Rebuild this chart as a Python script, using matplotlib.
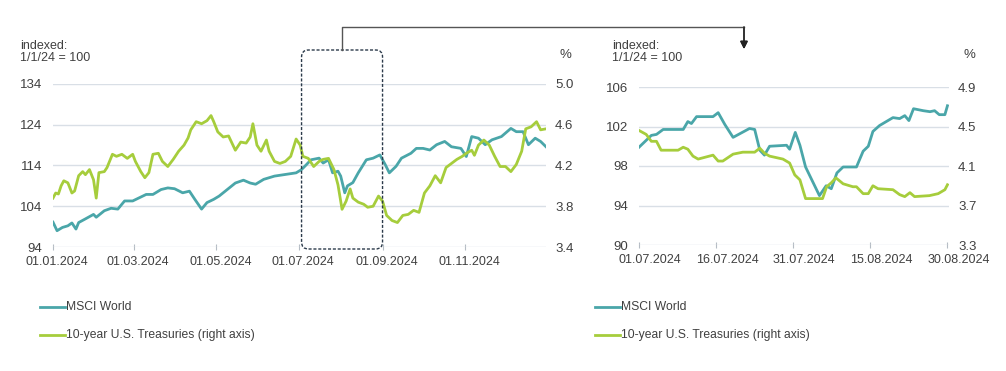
import matplotlib
matplotlib.use('Agg')
import matplotlib.pyplot as plt
from matplotlib.patches import FancyBboxPatch
from matplotlib.lines import Line2D
from matplotlib.transforms import ScaledTranslation, IdentityTransform

# full year 2024, x = days since 01.01.2024
msci_year_day = [0, 3, 7, 11, 14, 17, 19, 24, 30, 32, 38, 43, 48, 53, 59, 64, 69, 74, 80, 85,
                 90, 96, 101, 105, 110, 114, 119, 123, 129, 135, 141, 146, 150, 156, 164, 172, 180, 184, 187, 191,
                 197, 200, 204, 207, 211, 213, 216, 218, 222, 226, 232, 237, 242, 246, 249, 254, 258, 265, 269, 274,
                 279, 284, 290, 295, 302, 306, 310, 315, 320, 325, 332, 339, 343, 348, 352, 357, 361, 365]
msci_year = [100.1, 98.0, 98.8, 99.2, 99.9, 98.4, 100.0, 100.9, 102.0, 101.3, 102.9, 103.5, 103.3, 105.3, 105.3, 106.1, 106.9, 106.9, 108.1, 108.5,
             108.3, 107.3, 107.7, 105.7, 103.3, 104.9, 105.7, 106.5, 108.1, 109.7, 110.4, 109.7, 109.4, 110.6, 111.4, 111.8, 112.2, 113.0, 114.0, 115.4,
             115.8, 114.6, 115.4, 112.2, 112.6, 111.4, 107.3, 109.0, 109.8, 112.2, 115.4, 115.8, 116.6, 114.2, 112.2, 113.8, 115.8, 117.0, 118.2, 118.2,
             117.8, 119.1, 119.9, 118.6, 118.2, 116.2, 121.1, 120.7, 119.1, 120.3, 121.1, 123.1, 122.3, 122.3, 119.1, 120.7, 119.9, 118.6]

ust_year_day = [0, 2, 4, 6, 8, 11, 14, 16, 19, 22, 24, 27, 30, 32, 34, 38, 40, 44, 47, 51,
                55, 59, 61, 65, 68, 71, 74, 78, 81, 85, 89, 93, 97, 100, 102, 106, 110, 114, 117, 119,
                122, 126, 130, 135, 139, 143, 146, 148, 151, 154, 158, 160, 164, 168, 172, 176, 180, 183, 185, 189,
                193, 197, 200, 204, 208, 211, 214, 217, 220, 222, 226, 230, 233, 237, 241, 244, 247, 251, 255, 259,
                263, 267, 271, 275, 279, 283, 287, 291, 295, 299, 303, 306, 310, 312, 315, 319, 323, 327, 331, 335,
                339, 343, 347, 350, 354, 358, 361, 365]
ust_year = [3.88, 3.93, 3.92, 4.00, 4.05, 4.03, 3.93, 3.95, 4.10, 4.14, 4.11, 4.16, 4.06, 3.88, 4.13, 4.14, 4.18, 4.31, 4.29, 4.31,
            4.27, 4.31, 4.24, 4.14, 4.08, 4.13, 4.31, 4.32, 4.24, 4.19, 4.26, 4.34, 4.40, 4.47, 4.55, 4.63, 4.61, 4.64, 4.69, 4.63,
            4.53, 4.48, 4.49, 4.35, 4.43, 4.42, 4.48, 4.61, 4.40, 4.34, 4.45, 4.34, 4.24, 4.22, 4.24, 4.29, 4.46, 4.40, 4.29, 4.27,
            4.19, 4.24, 4.26, 4.27, 4.16, 4.01, 3.77, 3.85, 3.97, 3.88, 3.84, 3.82, 3.79, 3.80, 3.90, 3.85, 3.71, 3.66, 3.64, 3.71,
            3.72, 3.76, 3.74, 3.93, 4.00, 4.10, 4.03, 4.18, 4.22, 4.26, 4.29, 4.32, 4.35, 4.30, 4.40, 4.45, 4.40, 4.29, 4.19, 4.19,
            4.14, 4.21, 4.34, 4.56, 4.58, 4.63, 4.55, 4.56]

year_tick_days = [0, 60, 121, 182, 244, 305]
year_tick_labels = ['01.01.2024', '01.03.2024', '01.05.2024', '01.07.2024', '01.09.2024', '01.11.2024']

# zoom 01.07.-30.08.2024, x = days since 01.07.2024
msci_zoom_day = [0, 2.4, 3.4, 4.7, 8.6, 9.5, 10.2, 11.2, 14.4, 15.4, 16.7, 18.3, 21.5, 22.5, 23.5, 24.4, 25.4, 28.7, 29.3, 30.4,
                 31.3, 32.4, 35.1, 36.4, 37.4, 38.5, 39.7, 42.3, 43.6, 44.6, 45.5, 46.8, 49.4, 50.7, 51.7, 52.5, 53.4, 55.3, 56.6, 57.5,
                 58.4, 59.5, 60]
msci_zoom = [99.9, 101.1, 101.2, 101.7, 101.7, 102.5, 102.3, 103.0, 103.0, 103.4, 102.2, 100.9, 101.8, 101.7, 99.6, 99.1, 100.0, 100.1, 99.7, 101.4,
             100.1, 97.9, 95.0, 96.0, 95.7, 97.3, 97.9, 97.9, 99.5, 100.0, 101.5, 102.1, 102.9, 102.8, 103.1, 102.6, 103.8, 103.6, 103.5, 103.6,
             103.2, 103.2, 104.1]

ust_zoom_day = [0, 1.4, 2.4, 3.4, 4.3, 7.6, 8.6, 9.5, 10.5, 11.5, 14.4, 15.4, 16.3, 18.3, 20.2, 22.5, 23.5, 24.4, 25.4, 28.0,
                29.3, 30.3, 31.3, 32.4, 35.7, 36.5, 37.4, 38.3, 39.7, 41.6, 42.3, 43.6, 44.6, 45.5, 46.5, 49.4, 50.7, 51.7, 52.7, 53.6,
                56.5, 58.2, 59.5, 60]
ust_zoom = [4.46, 4.42, 4.35, 4.35, 4.26, 4.26, 4.29, 4.27, 4.20, 4.17, 4.21, 4.15, 4.15, 4.22, 4.24, 4.24, 4.28, 4.23, 4.20, 4.17,
            4.13, 4.01, 3.96, 3.77, 3.77, 3.89, 3.93, 3.98, 3.92, 3.89, 3.89, 3.82, 3.82, 3.90, 3.87, 3.86, 3.81, 3.79, 3.83, 3.79,
            3.80, 3.82, 3.86, 3.91]

zoom_tick_days = [0, 15, 30, 45, 60]
zoom_tick_labels = ['01.07.2024', '16.07.2024', '31.07.2024', '15.08.2024', '30.08.2024']

TEAL = '#4aa6a9'
LIME = '#a6cd3c'
GRID = '#d9dfe6'
TEXT = '#404040'
W, H = 1006, 371

plt.rcParams['font.family'] = ['Liberation Sans', 'DejaVu Sans']
plt.rcParams['text.color'] = TEXT


def setup(ax, axr, xlim, ylim, ylim_r, lticks, rticks, xticks, xlabels, dx):
    ax.set_xlim(*xlim)
    ax.set_ylim(*ylim)
    axr.set_ylim(*ylim_r)
    ax.set_yticks(lticks)
    axr.set_yticks(rticks)
    axr.set_yticklabels([f'{v:.1f}' for v in rticks])
    ax.set_xticks(xticks, xlabels)
    for a in (ax, axr):
        for s in a.spines.values():
            s.set_visible(False)
    ax.grid(axis='y', color=GRID, linewidth=1.0)
    ax.set_axisbelow(True)
    ax.tick_params(axis='y', length=0, pad=8, labelsize=9.5, labelcolor=TEXT)
    axr.tick_params(axis='y', length=0, pad=6.5, labelsize=9.5, labelcolor=TEXT)
    ax.tick_params(axis='x', direction='inout', length=4, width=0.8, color='#b5bcc4', pad=4.5,
                   labelsize=9, labelcolor=TEXT)
    off = ScaledTranslation(dx / 100, 0, ax.figure.dpi_scale_trans)
    for lab in ax.get_xticklabels():
        lab.set_transform(lab.get_transform() + off)


fig = plt.figure(figsize=(W / 100, H / 100), dpi=100)

# left: full year
ax1 = fig.add_axes([53 / W, 1 - 247 / H, 493 / W, 163 / H])
ax1r = ax1.twinx()
ax1.plot(msci_year_day, msci_year, color=TEAL, lw=2.0)
ax1r.plot(ust_year_day, ust_year, color=LIME, lw=2.0)
setup(ax1, ax1r, (0, 365), (94, 134), (3.4, 5.0), [94, 104, 114, 124, 134],
      [3.4, 3.8, 4.2, 4.6, 5.0], year_tick_days, year_tick_labels, 4)

# right: zoom
ax2 = fig.add_axes([639 / W, 1 - 245 / H, 310 / W, 158 / H])
ax2r = ax2.twinx()
ax2.plot(msci_zoom_day, msci_zoom, color=TEAL, lw=2.0)
ax2r.plot(ust_zoom_day, ust_zoom, color=LIME, lw=2.0)
setup(ax2, ax2r, (0, 60.3), (90, 106), (3.3, 4.9), [90, 94, 98, 102, 106],
      [3.3, 3.7, 4.1, 4.5, 4.9], zoom_tick_days, zoom_tick_labels, 11)

# header labels
for x0, xp in ((20, 559), (612, 964)):
    fig.text(x0 / W, 1 - 40 / H, 'indexed:\n1/1/24 = 100', fontsize=9, color=TEXT,
             va='top', ha='left', linespacing=0.95)
    fig.text(xp / W, 1 - 55 / H, '%', fontsize=9.5, color=TEXT, va='center', ha='left')

# dashed box around Jul-Aug in the year chart
fig.canvas.draw()
x_a, y_b = ax1.transData.transform((185.5, 94))
x_b, _ = ax1.transData.transform((242.5, 94))
y_t = H - 52
box = FancyBboxPatch((x_a, y_b), x_b - x_a, y_t - y_b,
                     boxstyle='round,pad=2,rounding_size=7', transform=IdentityTransform(),
                     fill=False, edgecolor='#2b3a4a', linestyle=(0, (2.2, 1.3)), linewidth=1.0)
fig.add_artist(box)

# connector to the zoom chart
xc = (x_a + x_b) / 2
fig.add_artist(Line2D([xc, xc, 744], [y_t + 2, H - 27, H - 27], transform=IdentityTransform(),
                      color='#555555', linewidth=1.0))
fig.add_artist(plt.annotate('', xy=(744, H - 49), xytext=(744, H - 27), xycoords='figure pixels',
                            arrowprops=dict(arrowstyle='-|>', color='#222222', lw=1.0,
                                            mutation_scale=11, shrinkA=0, shrinkB=0)))

# legends
for x0 in (40, 595):
    for yy, col, txt in ((307, TEAL, 'MSCI World'), (335, LIME, '10-year U.S. Treasuries (right axis)')):
        fig.add_artist(Line2D([x0, x0 + 25], [H - yy, H - yy], transform=IdentityTransform(),
                              color=col, linewidth=2.0))
        fig.text((x0 + 26) / W, 1 - yy / H, txt, fontsize=8.7, color=TEXT, va='center', ha='left')

fig.savefig('out.png', dpi=100)
